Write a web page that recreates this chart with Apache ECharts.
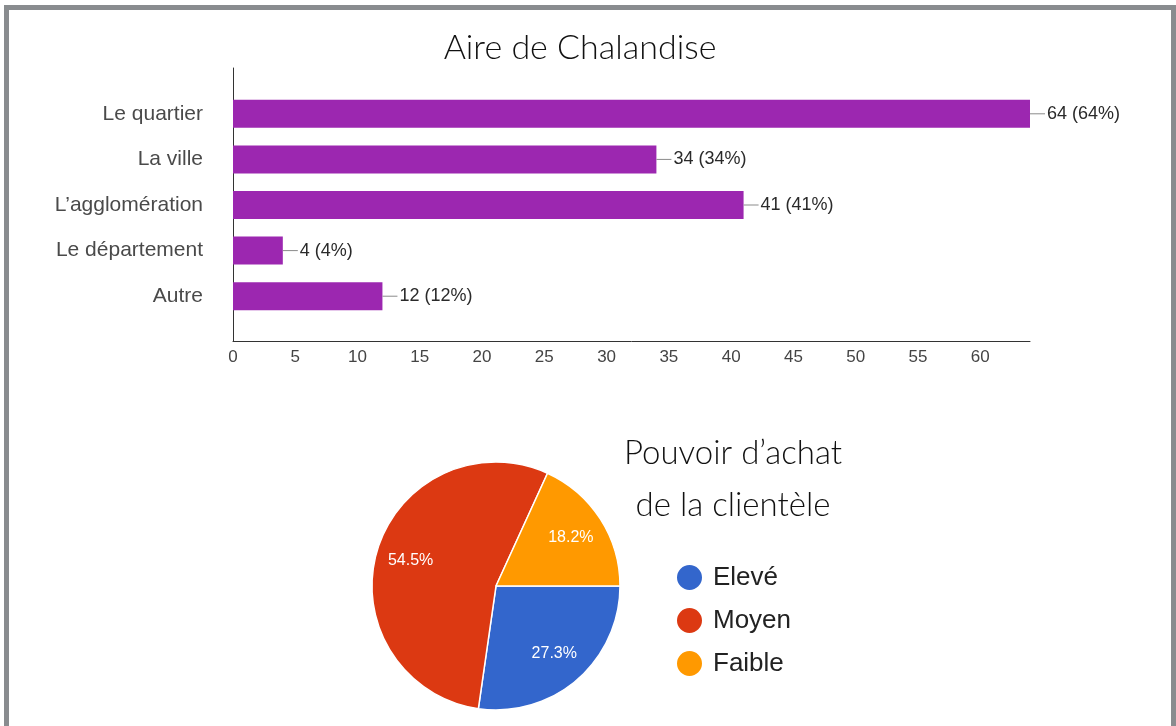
<!DOCTYPE html>
<html>
<head>
<meta charset="utf-8">
<title>Aire de Chalandise</title>
<script src="https://cdn.jsdelivr.net/npm/echarts@6/dist/echarts.min.js"></script>
<style>
  html, body { margin: 0; padding: 0; background: #fff; overflow: hidden; }
  #frame {
    position: absolute; left: 4px; top: 5px; width: 1162px; height: 760px;
    border: 5px solid #898c8f; box-sizing: content-box;
  }
  #main { position: absolute; left: 0; top: 0; width: 1176px; height: 726px; }
</style>
</head>
<body>
<div id="frame"></div>
<div id="main"></div>
<script>
// Aire de Chalandise (réponses sur 100 personnes)
var zones = ['Le quartier', 'La ville', 'L\u2019agglomération', 'Le département', 'Autre'];
var zoneCounts = [64, 34, 41, 4, 12];
var respondents = 100;
var xTicks = [0, 5, 10, 15, 20, 25, 30, 35, 40, 45, 50, 55, 60];

// Pouvoir d'achat de la clientèle
var niveaux = ['Elevé', 'Moyen', 'Faible'];
var niveauCounts = [3, 6, 2];
var niveauColors = ['#3366cc', '#dc3912', '#ff9900'];

var chart = echarts.init(document.getElementById('main'));

var pieData = niveaux.map(function (n, i) {
    return { name: n, value: niveauCounts[i], itemStyle: { color: niveauColors[i] } };
});

var option = {
    animation: false,
    title: [{
        text: 'Aire de Chalandise',
        left: 575, top: 26, textAlign: 'center',
        textStyle: { fontFamily: 'Lato', fontWeight: 300, fontSize: 34, color: '#111' }
    }, {
        text: 'Pouvoir d\u2019achat\nde la clientèle',
        left: 728, top: 422, textAlign: 'center',
        textStyle: { fontFamily: 'Lato', fontWeight: 300, fontSize: 33, lineHeight: 52, color: '#111' }
    }],
    grid: [
        { left: 233, right: 146, top: 68, height: 273 },
        { left: 233, right: 146, top: 91, height: 228 }
    ],
    xAxis: [{
        gridIndex: 0, type: 'value', min: 0, max: 64, interval: 5,
        axisLine: { show: true, lineStyle: { color: '#333', width: 1 } },
        axisTick: { show: false },
        splitLine: { show: false },
        axisLabel: {
            showMaxLabel: false, margin: 8,
            fontFamily: 'Liberation Sans', fontSize: 17, color: '#444'
        }
    }, {
        gridIndex: 1, type: 'value', min: 0, max: 64, show: false
    }],
    yAxis: [{
        gridIndex: 0, type: 'value', min: 0, max: 1,
        axisLine: { show: true, lineStyle: { color: '#333', width: 1 } },
        axisTick: { show: false }, axisLabel: { show: false }, splitLine: { show: false }
    }, {
        gridIndex: 1, type: 'category', inverse: true, data: zones,
        axisLine: { show: false }, axisTick: { show: false },
        axisLabel: { margin: 30, fontFamily: 'Liberation Sans', fontSize: 21, color: '#4a4a4a' }
    }],
    legend: {
        orient: 'vertical', left: 675, top: 563, padding: 0,
        itemWidth: 27, itemHeight: 27, itemGap: 14, icon: 'circle',
        data: niveaux,
        textStyle: { fontFamily: 'Liberation Sans', fontSize: 26, color: '#222', padding: [0, 0, 0, 5] }
    },
    series: [{
        type: 'bar', xAxisIndex: 1, yAxisIndex: 1,
        data: zoneCounts, barWidth: 28,
        itemStyle: { color: '#9c27b0' },
        label: {
            show: true, position: 'right', distance: 0,
            formatter: function (p) {
                return '{ln|}{t|' + p.value + ' (' + Math.round(p.value / respondents * 100) + '%)}';
            },
            rich: {
                ln: { width: 15, height: 1, backgroundColor: '#8a8a8a' },
                t: { fontFamily: 'Liberation Sans', fontSize: 18, color: '#2a2a2a', padding: [0, 0, 0, 2] }
            }
        }
    }, {
        type: 'pie', center: [496, 586], radius: 124,
        startAngle: 0, clockwise: true, percentPrecision: 1,
        itemStyle: { borderColor: '#fff', borderWidth: 1.5 },
        label: { show: false }, labelLine: { show: false },
        data: pieData
    }, {
        // couche transparente pour placer les pourcentages vers l'extérieur
        type: 'pie', center: [496, 586], radius: 172, silent: true, z: 5,
        startAngle: 0, clockwise: true, percentPrecision: 1,
        itemStyle: { color: 'rgba(0,0,0,0)' },
        label: {
            show: true, position: 'inside', formatter: '{d}%',
            fontFamily: 'Liberation Sans', fontSize: 16, color: '#fff'
        },
        labelLine: { show: false },
        data: niveaux.map(function (n, i) {
            return { name: n, value: niveauCounts[i], itemStyle: { color: 'rgba(0,0,0,0)' } };
        })
    }]
};

chart.setOption(option);
</script>
</body>
</html>
